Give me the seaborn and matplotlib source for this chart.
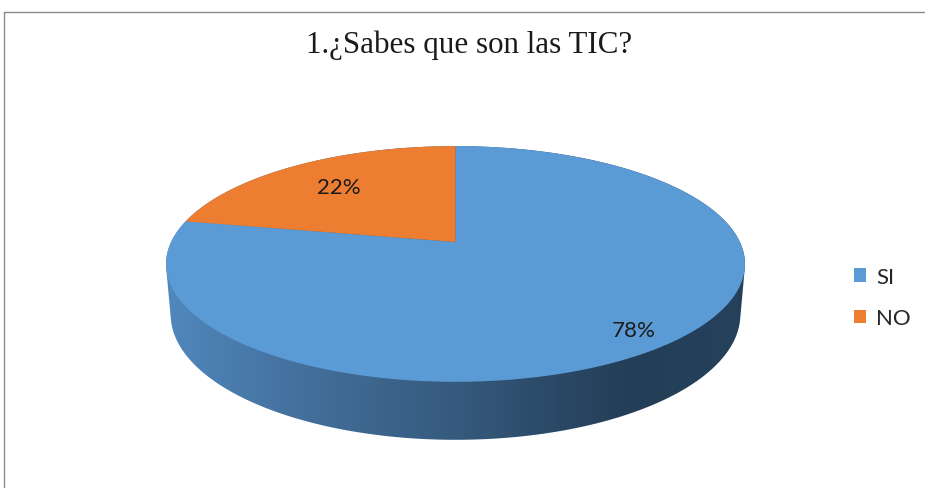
import numpy as np
import matplotlib
matplotlib.use("Agg")
import matplotlib.pyplot as plt
import seaborn as sns
from matplotlib.colors import LinearSegmentedColormap
from matplotlib.patches import Polygon, Patch
from matplotlib.lines import Line2D

# data
categories = ["SI", "NO"]
values = [78, 22]
pct_labels = ["78%", "22%"]
title = "1.¿Sabes que son las TIC?"

sns.set_theme(style="white")
plt.rcParams["font.family"] = ["Lato", "DejaVu Sans"]
colors = sns.color_palette(["#5B9BD5", "#ED7D31"])

# 3d pie geometry (perspective view of a flat cylinder)
s, c = 0.40, np.sqrt(1 - 0.40 ** 2)   # sin / cos of elevation
D = 4.92                               # camera distance
h = 0.193                              # thickness
scale = 284.4                          # pixels per unit
cx, cy = 455.5, 243                    # pixel position of pie centre
W, H = 925, 489


def project(X, Y, Z):
    yp = Y * s + Z * c
    d = Y * c - Z * s
    f = D / (D + d)
    return X * f, yp * f


def rim(t0, t1, z, n=200):
    t = np.radians(np.linspace(t0, t1, n))
    return np.column_stack(project(np.cos(t), np.sin(t), z))


def hull(pts):
    pts = sorted(map(tuple, pts))
    def half(seq):
        out = []
        for p in seq:
            while len(out) >= 2 and ((out[-1][0] - out[-2][0]) * (p[1] - out[-2][1])
                                     - (out[-1][1] - out[-2][1]) * (p[0] - out[-2][0])) <= 0:
                out.pop()
            out.append(p)
        return out
    lo, up = half(pts), half(pts[::-1])
    return np.array(lo[:-1] + up[:-1])


fig = plt.figure(figsize=(W / 100, H / 100), dpi=100)
ax = fig.add_axes([0, 0, 1, 1])
ax.set_xlim(-cx / scale, (W - cx) / scale)
ax.set_ylim(-(H - cy) / scale, cy / scale)
ax.set_aspect("equal")
ax.axis("off")

# side of the cylinder with horizontal shading
side_pts = hull(np.vstack([rim(0, 360, 0, 360), rim(0, 360, -h, 360)]))
side = Polygon(side_pts, closed=True, facecolor="none", edgecolor="none")
ax.add_patch(side)
shade = LinearSegmentedColormap.from_list("side", [
    (0.0, "#5088bd"), (0.22, "#44719e"), (0.5, "#365a7d"),
    (0.68, "#2a4866"), (0.8, "#243e57"), (1.0, "#25415c")])
xmin, xmax = side_pts[:, 0].min(), side_pts[:, 0].max()
ymin, ymax = side_pts[:, 1].min(), side_pts[:, 1].max()
img = ax.imshow(np.linspace(0, 1, 256)[None, :], cmap=shade, aspect="auto",
                extent=(xmin, xmax, ymin, ymax), interpolation="bilinear", zorder=1)
img.set_clip_path(side)

# top face wedges, clockwise from 12 o'clock
label_r = [0.86, 0.71]
start = 90.0
for cat, val, col, lab, r in zip(categories, values, colors, pct_labels, label_r):
    sweep = 360.0 * val / sum(values)
    pts = np.vstack([[project(0, 0, 0)], rim(start - sweep, start, 0)])
    ax.add_patch(Polygon(pts, closed=True, facecolor=col, edgecolor="none", zorder=2))
    mid = np.radians(start - sweep / 2)
    lx, ly = project(r * np.cos(mid), r * np.sin(mid), 0)
    ax.text(lx, ly - 0.006, lab, ha="center", va="center", fontsize=16, color="#1a1a1a", zorder=3)
    start -= sweep

fig.text(469 / W, 1 - 45 / H, title, ha="center", va="center", fontsize=22.3,
         family=["Liberation Serif", "DejaVu Serif"], color="#1a1a1a")

handles = [Patch(facecolor=col, edgecolor="none", label=cat) for cat, col in zip(categories, colors)]
fig.legend(handles=handles, loc="upper left", bbox_to_anchor=(854 / W, 1 - 268 / H),
           frameon=False, fontsize=16, handlelength=0.55, handleheight=0.55,
           handletextpad=0.45, labelspacing=0.95, borderpad=0, borderaxespad=0)

# chart area border (top and left edges visible)
fig.add_artist(Line2D([4 / W, 1], [1 - 12.5 / H] * 2, transform=fig.transFigure, color="#8a8a8a", lw=1))
fig.add_artist(Line2D([4 / W, 4 / W], [0, 1 - 12.5 / H], transform=fig.transFigure, color="#8a8a8a", lw=1))

fig.savefig("out.png", dpi=100, facecolor="white")
